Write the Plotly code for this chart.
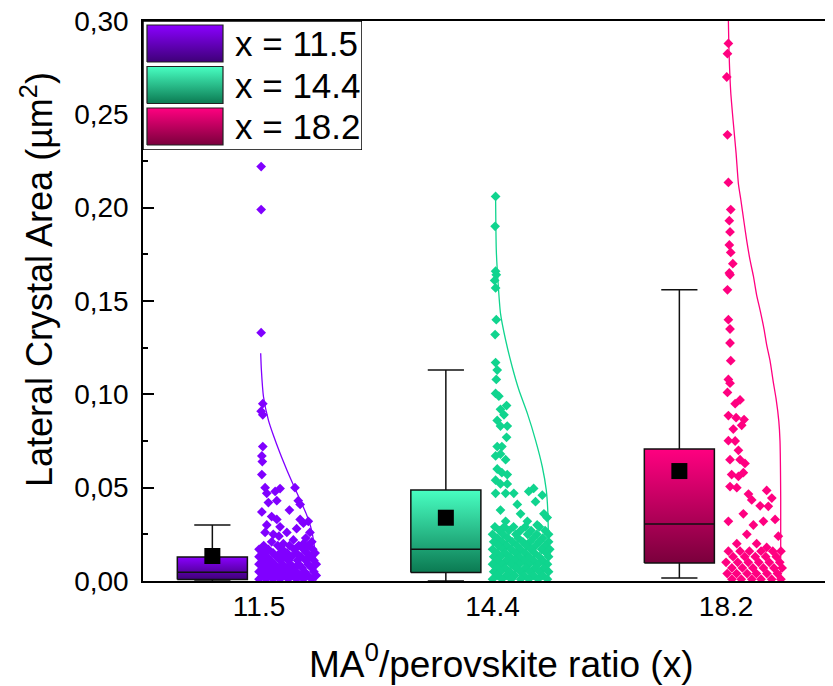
import plotly.graph_objects as go

# ---------------- data ----------------
categories = ["11.5", "14.4", "18.2"]
cat_pos = [1, 2, 3]
legend_labels = ["x = 11.5", "x = 14.4", "x = 18.2"]
y_ticks = [0.0, 0.05, 0.10, 0.15, 0.20, 0.25, 0.30]
y_tick_text = ["0,00", "0,05", "0,10", "0,15", "0,20", "0,25", "0,30"]

q1 = [0.0008, 0.0046, 0.0096]
median = [0.0047, 0.0170, 0.0305]
q3 = [0.0129, 0.0488, 0.0707]
whisker_low = [0.0, 0.0, 0.0016]
whisker_high = [0.030, 0.113, 0.156]
mean_val = [0.0134, 0.0339, 0.0589]

# raw data points (value, horizontal jitter offset from category)
pur_val = [0.222, 0.199, 0.133, 0.095, 0.091, 0.089, 0.072, 0.067, 0.064, 0.057, 0.050, 0.047, 0.048, 0.0495, 0.050,
           0.042, 0.043, 0.043, 0.041, 0.0345, 0.033, 0.030, 0.029, 0.033, 0.031, 0.032, 0.026, 0.025, 0.026, 0.028,
           0.026, 0.021, 0.020, 0.022, 0.020, 0.021, 0.037, 0.038, 0.024, 0.023,
           0.019, 0.019, 0.019, 0.019, 0.019,
           0.017, 0.017, 0.017, 0.017, 0.017, 0.017,
           0.015, 0.015, 0.015, 0.015, 0.015, 0.015, 0.015,
           0.013, 0.013, 0.013, 0.013, 0.013, 0.013, 0.013,
           0.011, 0.011, 0.011, 0.011, 0.011, 0.011, 0.011,
           0.009, 0.009, 0.009, 0.009, 0.009, 0.009, 0.009, 0.009,
           0.007, 0.007, 0.007, 0.007, 0.007, 0.007, 0.007,
           0.005, 0.005, 0.005, 0.005, 0.005, 0.005, 0.005, 0.005,
           0.003, 0.003, 0.003, 0.003, 0.003, 0.003, 0.003, 0.003,
           0.001, 0.001, 0.001, 0.001, 0.001, 0.001, 0.001, 0.001]
pur_off = [0.009, 0.009, 0.009, 0.016, 0.009, 0.016, 0.016, 0.012, 0.014, 0.012, 0.026, 0.033, 0.069, 0.090, 0.154,
           0.040, 0.076, 0.168, 0.176, 0.054, 0.076, 0.033, 0.090, 0.176, 0.190, 0.211, 0.026, 0.061, 0.119, 0.161,
           0.218, 0.054, 0.104, 0.147, 0.190, 0.226, 0.012, 0.130, 0.085, 0.200,
           0.02, 0.08, 0.13, 0.17, 0.21,
           0.00, 0.04, 0.10, 0.15, 0.19, 0.23,
           0.02, 0.06, 0.09, 0.12, 0.16, 0.205, 0.24,
           0.00, 0.035, 0.075, 0.11, 0.14, 0.18, 0.22,
           0.015, 0.05, 0.09, 0.125, 0.165, 0.20, 0.235,
           0.00, 0.03, 0.065, 0.10, 0.135, 0.17, 0.21, 0.245,
           0.015, 0.045, 0.08, 0.115, 0.15, 0.185, 0.225,
           0.00, 0.03, 0.06, 0.095, 0.13, 0.16, 0.195, 0.235,
           0.015, 0.045, 0.075, 0.11, 0.145, 0.175, 0.21, 0.245,
           0.00, 0.03, 0.06, 0.09, 0.125, 0.16, 0.19, 0.225]

grn_val = [0.206, 0.190, 0.166, 0.164, 0.161, 0.157, 0.140, 0.132, 0.117, 0.113, 0.108, 0.1005, 0.099, 0.092, 0.094,
           0.086, 0.089, 0.083, 0.083, 0.072, 0.072, 0.077, 0.067, 0.068, 0.065, 0.060, 0.058, 0.057, 0.054, 0.052,
           0.052, 0.047, 0.047, 0.047, 0.048, 0.0496, 0.046, 0.041, 0.0425, 0.036, 0.038, 0.036, 0.032, 0.032, 0.030,
           0.034,
           0.029, 0.029, 0.029, 0.029, 0.029,
           0.027, 0.027, 0.027, 0.027, 0.027,
           0.025, 0.025, 0.025, 0.025, 0.025, 0.025,
           0.023, 0.023, 0.023, 0.023, 0.023,
           0.021, 0.021, 0.021, 0.021, 0.021, 0.021, 0.021,
           0.019, 0.019, 0.019, 0.019, 0.019, 0.019,
           0.017, 0.017, 0.017, 0.017, 0.017, 0.017, 0.017,
           0.015, 0.015, 0.015, 0.015, 0.015, 0.015,
           0.013, 0.013, 0.013, 0.013, 0.013, 0.013, 0.013,
           0.011, 0.011, 0.011, 0.011, 0.011, 0.011,
           0.009, 0.009, 0.009, 0.009, 0.009, 0.009, 0.009,
           0.007, 0.007, 0.007, 0.007, 0.007, 0.007,
           0.005, 0.005, 0.005, 0.005, 0.005, 0.005, 0.005,
           0.003, 0.003, 0.003, 0.003, 0.003, 0.003,
           0.001, 0.001, 0.001, 0.001, 0.001, 0.001, 0.001]
grn_off = [0.013, 0.011, 0.013, 0.016, 0.009, 0.013, 0.016, 0.011, 0.013, 0.020, 0.016, 0.013, 0.027, 0.034, 0.060,
           0.020, 0.049, 0.034, 0.063, 0.020, 0.040, 0.060, 0.013, 0.034, 0.056, 0.020, 0.040, 0.063, 0.013, 0.034,
           0.063, 0.013, 0.056, 0.091, 0.155, 0.176, 0.213, 0.106, 0.184, 0.220, 0.034, 0.120, 0.056, 0.149, 0.191,
           0.234,
           0.01, 0.05, 0.09, 0.14, 0.20,
           0.03, 0.07, 0.12, 0.165, 0.225,
           0.00, 0.045, 0.10, 0.15, 0.19, 0.24,
           0.02, 0.065, 0.11, 0.175, 0.215,
           0.005, 0.04, 0.085, 0.13, 0.16, 0.20, 0.24,
           0.025, 0.06, 0.105, 0.145, 0.185, 0.225,
           0.00, 0.045, 0.08, 0.12, 0.165, 0.21, 0.245,
           0.02, 0.055, 0.10, 0.14, 0.18, 0.23,
           0.005, 0.035, 0.075, 0.115, 0.155, 0.20, 0.24,
           0.02, 0.06, 0.095, 0.135, 0.175, 0.215,
           0.00, 0.04, 0.08, 0.115, 0.155, 0.195, 0.235,
           0.02, 0.055, 0.10, 0.14, 0.18, 0.22,
           0.005, 0.035, 0.075, 0.12, 0.16, 0.20, 0.24,
           0.02, 0.06, 0.095, 0.135, 0.175, 0.215,
           0.00, 0.04, 0.08, 0.12, 0.155, 0.195, 0.235]

pnk_val = [0.288, 0.2825, 0.270, 0.239, 0.2135, 0.199, 0.193, 0.187, 0.180, 0.176, 0.170, 0.165, 0.164, 0.156, 0.140,
           0.135, 0.1275, 0.118, 0.108, 0.106, 0.101, 0.095, 0.097, 0.0886, 0.0875, 0.0865, 0.0814, 0.0834, 0.0752,
           0.075, 0.070, 0.065, 0.065, 0.063, 0.057, 0.056, 0.058, 0.0506, 0.050, 0.0466, 0.0434, 0.0485, 0.0444,
           0.0403, 0.040, 0.032, 0.036, 0.030, 0.032, 0.033, 0.024, 0.025, 0.020, 0.020, 0.018,
           0.016, 0.016, 0.016, 0.016, 0.016, 0.016,
           0.013, 0.013, 0.013, 0.013, 0.013,
           0.010, 0.010, 0.010, 0.010, 0.010, 0.010,
           0.007, 0.007, 0.007, 0.007, 0.007, 0.007,
           0.004, 0.004, 0.004, 0.004, 0.004, 0.004,
           0.001, 0.001, 0.001, 0.001, 0.001, 0.001]
pnk_off = [0.010, 0.006, 0.003, 0.006, 0.010, 0.020, 0.014, 0.017, 0.014, 0.020, 0.029, 0.014, 0.017, 0.006, 0.010,
           0.017, 0.017, 0.020, 0.010, 0.017, 0.006, 0.039, 0.060, 0.010, 0.043, 0.077, 0.031, 0.067, 0.010,
           0.039, 0.053, 0.017, 0.060, 0.081, 0.024, 0.053, 0.074, 0.017, 0.046, 0.096, 0.110, 0.174, 0.196,
           0.146, 0.181, 0.010, 0.074, 0.117, 0.160, 0.210, 0.224, 0.089, 0.046, 0.131, 0.174,
           0.01, 0.06, 0.10, 0.15, 0.20, 0.235,
           0.03, 0.08, 0.125, 0.17, 0.215,
           0.00, 0.05, 0.095, 0.14, 0.185, 0.23,
           0.025, 0.07, 0.115, 0.16, 0.205, 0.24,
           0.005, 0.045, 0.09, 0.13, 0.175, 0.22,
           0.025, 0.065, 0.11, 0.15, 0.195, 0.235]

# fitted distribution curves (value, horizontal offset)
pur_curve_val = [0.122, 0.113, 0.0987, 0.0862, 0.0782, 0.0684, 0.0595, 0.0514, 0.0434, 0.0354, 0.0291, 0.022, 0.0148, 0.0]
pur_curve_off = [0.007, 0.010, 0.019, 0.040, 0.061, 0.090, 0.119, 0.147, 0.176, 0.204, 0.221, 0.233, 0.240, 0.243]
grn_curve_val = [0.206, 0.1773, 0.1612, 0.1434, 0.1291, 0.1148, 0.1023, 0.0898, 0.0755, 0.0612, 0.0488, 0.0363, 0.0]
grn_curve_off = [0.013, 0.016, 0.023, 0.034, 0.056, 0.084, 0.113, 0.149, 0.184, 0.213, 0.230, 0.237, 0.241]
pnk_curve_val = [0.30, 0.2825, 0.262, 0.2456, 0.2291, 0.2127, 0.2045, 0.1922, 0.1819, 0.1717, 0.1634, 0.1532, 0.145,
                 0.1347, 0.1265, 0.1183, 0.106, 0.0978, 0.0855, 0.0752, 0.0444, 0.0]
pnk_curve_off = [0.010, 0.013, 0.020, 0.031, 0.043, 0.053, 0.063, 0.077, 0.089, 0.103, 0.117, 0.131, 0.146,
                 0.163, 0.174, 0.188, 0.203, 0.214, 0.226, 0.231, 0.234, 0.234]

point_vals = [pur_val, grn_val, pnk_val]
point_offs = [pur_off, grn_off, pnk_off]
curve_vals = [pur_curve_val, grn_curve_val, pnk_curve_val]
curve_offs = [pur_curve_off, grn_curve_off, pnk_curve_off]

# ---------------- styles ----------------
point_colors = ["#8000FF", "#10D48E", "#FF0080"]
grad_top = ["#8A00FF", "#48FFC2", "#FF0080"]
grad_bottom = ["#3E0078", "#0B7A52", "#7A003C"]
FONT = "Arial, 'Liberation Sans', sans-serif"
BOX_SHIFT = -0.2
BOX_W = 0.30
CAP_W = 0.155

# page has an 8px body margin: figure is sized/shifted to compensate
PL, PT, PW, PH = 135, 13, 690, 560

fig = go.Figure()

for i in range(3):
    c = cat_pos[i]
    p = c + BOX_SHIFT
    x0, x1 = p - BOX_W / 2, p + BOX_W / 2
    fig.add_trace(go.Scatter(
        x=[x0, x1, x1, x0, x0], y=[q1[i], q1[i], q3[i], q3[i], q1[i]],
        mode="lines", fill="toself",
        fillgradient=dict(type="vertical", colorscale=[[0, grad_bottom[i]], [1, grad_top[i]]]),
        line=dict(color="#111111", width=1.5), showlegend=False, hoverinfo="skip"))
    fig.add_trace(go.Scatter(x=[x0, x1], y=[median[i], median[i]], mode="lines",
                             line=dict(color="#111111", width=1.5), showlegend=False, hoverinfo="skip"))
    fig.add_trace(go.Scatter(
        x=[p, p, None, p, p, None, p - CAP_W / 2, p + CAP_W / 2, None, p - CAP_W / 2, p + CAP_W / 2],
        y=[q3[i], whisker_high[i], None, q1[i], whisker_low[i], None,
           whisker_high[i], whisker_high[i], None, whisker_low[i], whisker_low[i]],
        mode="lines", line=dict(color="#111111", width=1.5), showlegend=False, hoverinfo="skip"))
    fig.add_trace(go.Scatter(x=[p], y=[mean_val[i]], mode="markers",
                             marker=dict(symbol="square", size=16, color="black"),
                             showlegend=False, hoverinfo="skip"))
    fig.add_trace(go.Scatter(x=[c + o for o in curve_offs[i]], y=curve_vals[i], mode="lines",
                             line=dict(color=point_colors[i], width=1.3, shape="spline", smoothing=0.6),
                             showlegend=False, hoverinfo="skip"))
    fig.add_trace(go.Scatter(x=[c + o for o in point_offs[i]], y=point_vals[i], mode="markers",
                             marker=dict(symbol="diamond", size=7.5, color=point_colors[i], line=dict(width=0)),
                             showlegend=False, hoverinfo="skip"))

# invisible trace for right-side tick axis
fig.add_trace(go.Scatter(x=[1], y=[0], yaxis="y2", mode="markers", marker=dict(opacity=0),
                         showlegend=False, hoverinfo="skip"))

# ---------------- custom legend (own small subplot, pixel-like coords) ----------------
LEG_W, LEG_H = 219, 129
fig.add_trace(go.Scatter(x=[0, LEG_W, LEG_W, 0, 0], y=[0, 0, LEG_H, LEG_H, 0], xaxis="x3", yaxis="y3",
                         mode="lines", fill="toself", fillcolor="white", line=dict(color="black", width=1.5),
                         showlegend=False, hoverinfo="skip"))
for i in range(3):
    top = 125 - i * 41.5
    bot = top - 37
    fig.add_trace(go.Scatter(
        x=[4, 80, 80, 4, 4], y=[bot, bot, top, top, bot], xaxis="x3", yaxis="y3",
        mode="lines", fill="toself",
        fillgradient=dict(type="vertical", colorscale=[[0, grad_bottom[i]], [1, grad_top[i]]]),
        line=dict(color="#222222", width=1.2), showlegend=False, hoverinfo="skip"))
    fig.add_annotation(x=90, y=(top + bot) / 2, xref="x3", yref="y3", text=legend_labels[i],
                       showarrow=False, xanchor="left", yanchor="middle",
                       font=dict(family=FONT, size=35, color="black"))

# axis titles as annotations for precise placement
fig.add_annotation(x=(29 - PL) / PW, y=1 - (272 - PT) / PH, xref="paper", yref="paper",
                   text="Lateral Crystal Area (µm<sup>2</sup>)", textangle=-90, showarrow=False,
                   xanchor="center", yanchor="middle", font=dict(family=FONT, size=36, color="black"))
fig.add_annotation(x=(494 - PL) / PW, y=1 - (653 - PT) / PH, xref="paper", yref="paper",
                   text="MA<sup>0</sup>/perovskite ratio (x)", showarrow=False, borderpad=0,
                   xanchor="center", yanchor="middle", font=dict(family=FONT, size=37, color="black"))

axis_common = dict(showgrid=False, zeroline=False)
fig.update_layout(
    width=PL + PW, height=686 - 8,
    margin=dict(l=PL, r=0, t=PT, b=686 - 8 - PT - PH, autoexpand=False),
    paper_bgcolor="white", plot_bgcolor="white",
    separators=",.",
    font=dict(family=FONT, color="black"),
    xaxis=dict(range=[0.503, 3.458], tickvals=cat_pos, ticktext=categories, ticks="",
               showline=True, linecolor="black", linewidth=1.5, mirror=True,
               tickfont=dict(size=28), ticklabelstandoff=0, **axis_common),
    yaxis=dict(range=[0, 0.30], tickmode="array", tickvals=y_ticks, ticktext=y_tick_text,
               ticks="inside", ticklen=11, tickwidth=1.5, ticklabeloverflow="allow",
               tickcolor="black", showline=True, linecolor="black", linewidth=1.5,
               minor=dict(dtick=0.025, ticks="inside", ticklen=5, tickwidth=1.5, tickcolor="black"),
               tickfont=dict(size=28), ticklabelstandoff=7, **axis_common),
    yaxis2=dict(range=[0, 0.30], tickmode="array", tickvals=y_ticks, overlaying="y", side="right", anchor="x",
                ticks="inside", ticklen=4, tickwidth=1.5, tickcolor="black",
                showticklabels=False, showline=False, **axis_common),
    xaxis3=dict(domain=[0, LEG_W / PW], range=[0, LEG_W], anchor="y3", visible=False, fixedrange=True),
    yaxis3=dict(domain=[1 - LEG_H / PH, 1], range=[0, LEG_H], anchor="x3", visible=False, fixedrange=True),
    showlegend=False,
)

fig.write_html("out.html")
